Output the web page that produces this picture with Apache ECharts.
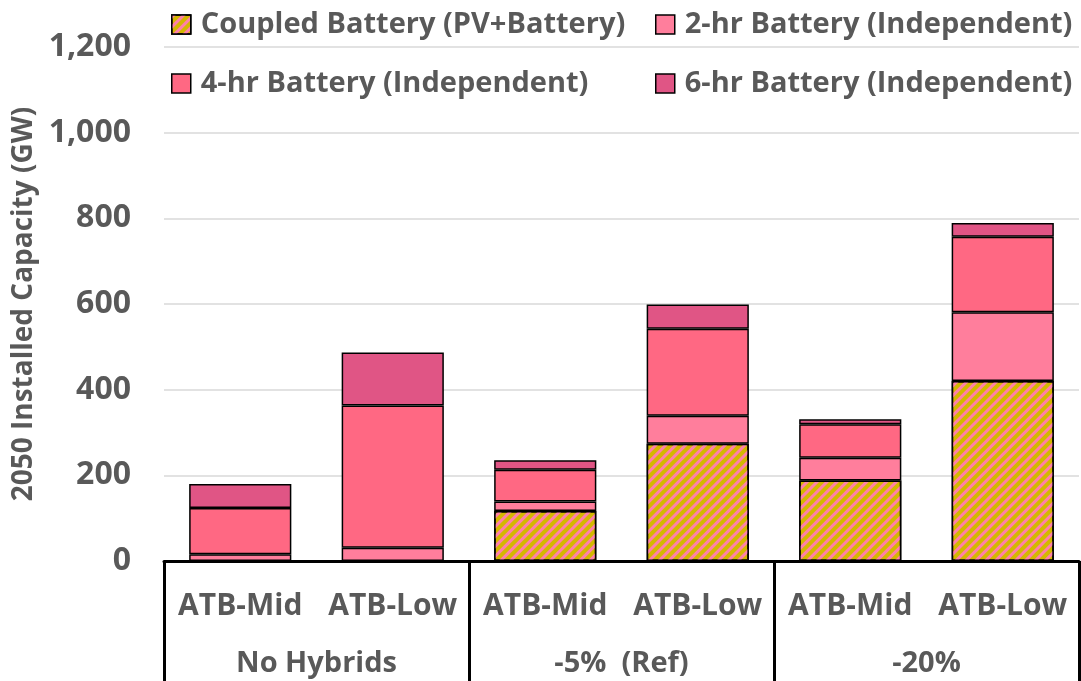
<!DOCTYPE html>
<html>
<head>
<meta charset="utf-8">
<script src="https://cdn.jsdelivr.net/npm/echarts@6/dist/echarts.min.js"></script>
<style>
  html, body { margin: 0; padding: 0; background: #fff; }
  #chart { width: 1081px; height: 681px; }
</style>
</head>
<body>
<div id="chart"></div>
<script>
// scenarios (bottom row) and cost cases (top row)
const groups = ['No Hybrids', '-5%  (Ref)', '-20%']
const cases = ['ATB-Mid', 'ATB-Low', 'ATB-Mid', 'ATB-Low', 'ATB-Mid', 'ATB-Low']

// GW
const coupled = [0, 0, 117, 274, 188, 420]
const hr2 = [16, 31, 22, 65, 53, 161]
const hr4 = [108, 332, 74, 203, 78, 176]
const hr6 = [56, 124, 22, 57, 12, 32]

const yTicks = { min: 0, max: 1200, interval: 200 }

const font = 'Open Sans'
const grey = '#595959'

const chart = echarts.init(document.getElementById('chart'))

function bar(name, data, color, decal) {
  return {
    name: name,
    type: 'bar',
    stack: 'total',
    barWidth: '67%',
    data: data,
    itemStyle: {
      color: color,
      borderColor: '#000',
      borderWidth: 1.5,
      decal: decal
    }
  }
}

const stripes = {
  symbol: 'rect',
  symbolSize: 1,
  color: '#FF80A8',
  dashArrayX: [1, 0],
  dashArrayY: [3, 4],
  rotation: -Math.PI / 4
}

const legendText = { fontFamily: font, fontWeight: 'bold', fontSize: 29, color: grey, padding: [0, 0, 0, 5] }
function legend(name, left, top) {
  return {
    data: [name],
    left: left,
    top: top,
    padding: 0,
    icon: 'rect',
    itemWidth: 19,
    itemHeight: 19,
    itemGap: 0,
    itemStyle: { borderColor: '#000', borderWidth: 1.5 },
    textStyle: legendText
  }
}

const option = {
  animation: false,
  aria: { enabled: false },
  legend: [
    legend('Coupled Battery (PV+Battery)', 171, 10),
    legend('2-hr Battery (Independent)', 655, 10),
    legend('4-hr Battery (Independent)', 171, 69),
    legend('6-hr Battery (Independent)', 655, 69)
  ],
  grid: { left: 164, right: 2, top: 47, bottom: 120, containLabel: false },
  xAxis: [
    {
      type: 'category',
      data: cases,
      axisLine: { lineStyle: { color: '#000', width: 3 } },
      axisTick: { show: false },
      axisLabel: {
        interval: 0,
        margin: 30,
        fontFamily: font,
        fontWeight: 'bold',
        fontSize: 30,
        color: grey
      }
    },
    {
      type: 'category',
      data: groups,
      position: 'bottom',
      axisLine: { show: false },
      axisTick: { show: true, length: 125, lineStyle: { color: '#000', width: 3 } },
      axisLabel: {
        interval: 0,
        margin: 88,
        fontFamily: font,
        fontWeight: 'bold',
        fontSize: 29,
        color: grey
      }
    }
  ],
  yAxis: {
    type: 'value',
    min: yTicks.min,
    max: yTicks.max,
    interval: yTicks.interval,
    name: '2050 Installed Capacity (GW)',
    nameLocation: 'middle',
    nameGap: 122,
    nameTextStyle: { fontFamily: font, fontWeight: 'bold', fontSize: 28, color: grey },
    axisLine: { show: false },
    axisTick: { show: false },
    splitLine: { lineStyle: { color: '#D9D9D9', width: 1.5 } },
    axisLabel: {
      margin: 33,
      fontFamily: font,
      fontWeight: 'bold',
      fontSize: 32,
      color: grey,
      formatter: (v) => String(v).replace(/\B(?=(\d{3})+(?!\d))/g, ',')
    }
  },
  series: [
    bar('Coupled Battery (PV+Battery)', coupled, '#D4B700', stripes),
    bar('2-hr Battery (Independent)', hr2, '#FF7E9C'),
    bar('4-hr Battery (Independent)', hr4, '#FF6883'),
    bar('6-hr Battery (Independent)', hr6, '#E05585')
  ]
}

chart.setOption(option)
</script>
</body>
</html>
